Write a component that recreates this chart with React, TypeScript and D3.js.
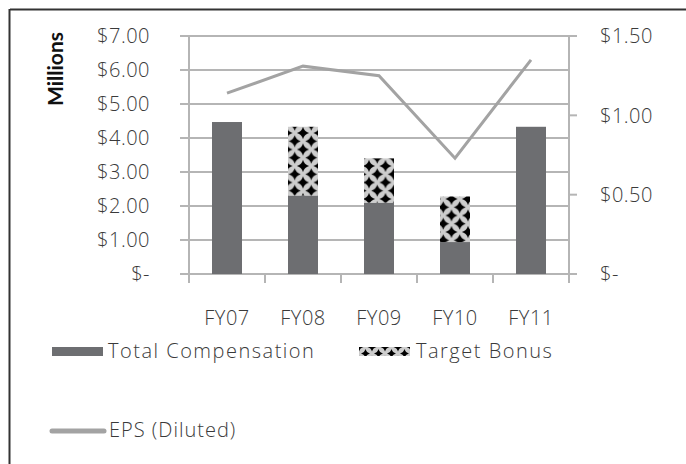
import React from "react";
import * as d3 from "d3";

const categories = ["FY07", "FY08", "FY09", "FY10", "FY11"];
const totalCompensation = [4.47, 2.31, 2.1, 0.94, 4.33];
const targetBonus = [0, 2.02, 1.3, 1.34, 0];
const epsDiluted = [1.14, 1.31, 1.25, 0.73, 1.35];
const leftTicks = [0, 1, 2, 3, 4, 5, 6, 7];
const rightTicks = [0, 0.5, 1, 1.5];

const W = 686;
const H = 464;
const plot = { left: 189, right: 569, top: 36, bottom: 274 };
const FONT = "'Open Sans', Lato, sans-serif";
const TITLE_FONT = "Lato, 'Open Sans', sans-serif";
const GRID = "#b5b5b5";
const BAR = "#6d6e71";
const LINE = "#a3a3a3";
const TXT = "#3a3a3a";
const FS = 20;

const fmtLeft = (v: number) => (v === 0 ? "$-" : `$${v.toFixed(2)}`);
const fmtRight = (v: number) => (v === 0 ? "$-" : `$${v.toFixed(2)}`);

function starPath(cx: number, cy: number, r: number) {
  const a = r * 0.22;
  return `M${cx},${cy - r} Q${cx + a},${cy - a} ${cx + r},${cy} Q${cx + a},${cy + a} ${cx},${cy + r} Q${cx - a},${cy + a} ${cx - r},${cy} Q${cx - a},${cy - a} ${cx},${cy - r} Z`;
}

export default function App() {
  const x = d3.scaleBand<string>().domain(categories).range([plot.left, plot.right]).paddingInner(0).paddingOuter(0);
  const yL = d3.scaleLinear().domain([0, 7]).range([plot.bottom, plot.top]);
  const yR = d3.scaleLinear().domain([0, 1.5]).range([plot.bottom, plot.top]);
  const barW = 30;
  const line = d3
    .line<number>()
    .x((_, i) => (x(categories[i]) as number) + x.bandwidth() / 2)
    .y((d) => yR(d));

  const cell = 16.5;
  const txt = { fontFamily: FONT, fontWeight: 300, fontSize: FS, fill: TXT, letterSpacing: 0.5 } as any;
  const leg = { ...txt, letterSpacing: 1.5 };
  return (
    <svg width={W} height={H} style={{ position: "absolute", left: 0, top: 0, background: "#fff" }}>
      <defs>
        <pattern id="stars" patternUnits="userSpaceOnUse" width={cell} height={cell} x={6} y={1}>
          <rect width={cell} height={cell} fill="#cdcdcd" />
          {[
            [0, 0],
            [cell, 0],
            [0, cell],
            [cell, cell],
            [cell / 2, cell / 2],
          ].map(([cx, cy], i) => (
            <path key={i} d={starPath(cx, cy, 6)} fill="#000" />
          ))}
        </pattern>
        <pattern id="starsSmall" patternUnits="userSpaceOnUse" width={13} height={13} x={359} y={347}>
          <rect width={13} height={13} fill="#cdcdcd" />
          {[
            [0, 0],
            [13, 0],
            [0, 13],
            [13, 13],
            [6.5, 6.5],
          ].map(([cx, cy], i) => (
            <path key={i} d={starPath(cx, cy, 4.5)} fill="#000" />
          ))}
        </pattern>
      </defs>
      <rect x={0} y={0} width={W} height={H} fill="#fff" />
      {/* frame */}
      <line x1={10} y1={9.5} x2={W} y2={9.5} stroke="#333" strokeWidth={2} />
      <line x1={9.5} y1={9} x2={9.5} y2={H} stroke="#333" strokeWidth={2} />

      {/* gridlines + left ticks */}
      {leftTicks.map((t) => (
        <line key={t} x1={plot.left - 9} x2={plot.right} y1={yL(t)} y2={yL(t)} stroke={GRID} strokeWidth={2} />
      ))}
      {/* right ticks */}
      {rightTicks.map((t) => (
        <line key={t} x1={plot.right} x2={plot.right + 8} y1={yR(t)} y2={yR(t)} stroke={GRID} strokeWidth={2} />
      ))}
      {/* axes */}
      <line x1={plot.left} x2={plot.left} y1={plot.top} y2={plot.bottom + 9} stroke={GRID} strokeWidth={2} />
      <line x1={plot.right} x2={plot.right} y1={plot.top} y2={plot.bottom + 9} stroke={GRID} strokeWidth={2} />
      {categories.map((c, i) =>
        i === 0 ? null : (
          <line key={c} x1={x(c)} x2={x(c)} y1={plot.bottom} y2={plot.bottom + 9} stroke={GRID} strokeWidth={2} />
        )
      )}

      {/* bars */}
      {categories.map((c, i) => {
        const bx = (x(c) as number) + (x.bandwidth() - barW) / 2;
        const base = totalCompensation[i];
        const top = base + targetBonus[i];
        return (
          <g key={c}>
            <rect x={bx} y={yL(base)} width={barW} height={yL(0) - yL(base)} fill={BAR} />
            {targetBonus[i] > 0 && (
              <rect x={bx} y={yL(top)} width={barW} height={yL(base) - yL(top)} fill="url(#stars)" />
            )}
          </g>
        );
      })}

      {/* EPS line */}
      <path d={line(epsDiluted) as string} fill="none" stroke={LINE} strokeWidth={3} strokeLinejoin="miter" />

      {/* left tick labels */}
      {leftTicks.map((t) => (
        <text key={t} x={150} y={yL(t)} dy="0.36em" textAnchor="end" {...txt}>
          {fmtLeft(t)}
        </text>
      ))}
      {/* right tick labels */}
      {rightTicks.map((t) => (
        <text key={t} x={600} y={yR(t)} dy="0.36em" textAnchor="start" {...txt}>
          {fmtRight(t)}
        </text>
      ))}
      {/* category labels */}
      {categories.map((c) => (
        <text key={c} x={(x(c) as number) + x.bandwidth() / 2} y={325} textAnchor="middle" {...txt}>
          {c}
        </text>
      ))}

      {/* axis title */}
      <text transform="translate(63,69) rotate(-90)" textAnchor="middle" fontFamily={TITLE_FONT} fontWeight={700} fontSize={21} fill="#111">
        Millions
      </text>

      {/* legend */}
      <rect x={52} y={347} width={51} height={9} fill={BAR} />
      <text x={108} y={358} {...leg}>
        Total Compensation
      </text>
      <rect x={359} y={347} width={51} height={9} fill="url(#starsSmall)" />
      <text x={416} y={358} {...leg}>
        Target Bonus
      </text>
      <line x1={52} x2={104} y1={431} y2={431} stroke={LINE} strokeWidth={5} strokeLinecap="round" />
      <text x={109} y={437} {...txt} letterSpacing={1}>
        EPS (Diluted)
      </text>
    </svg>
  );
}
